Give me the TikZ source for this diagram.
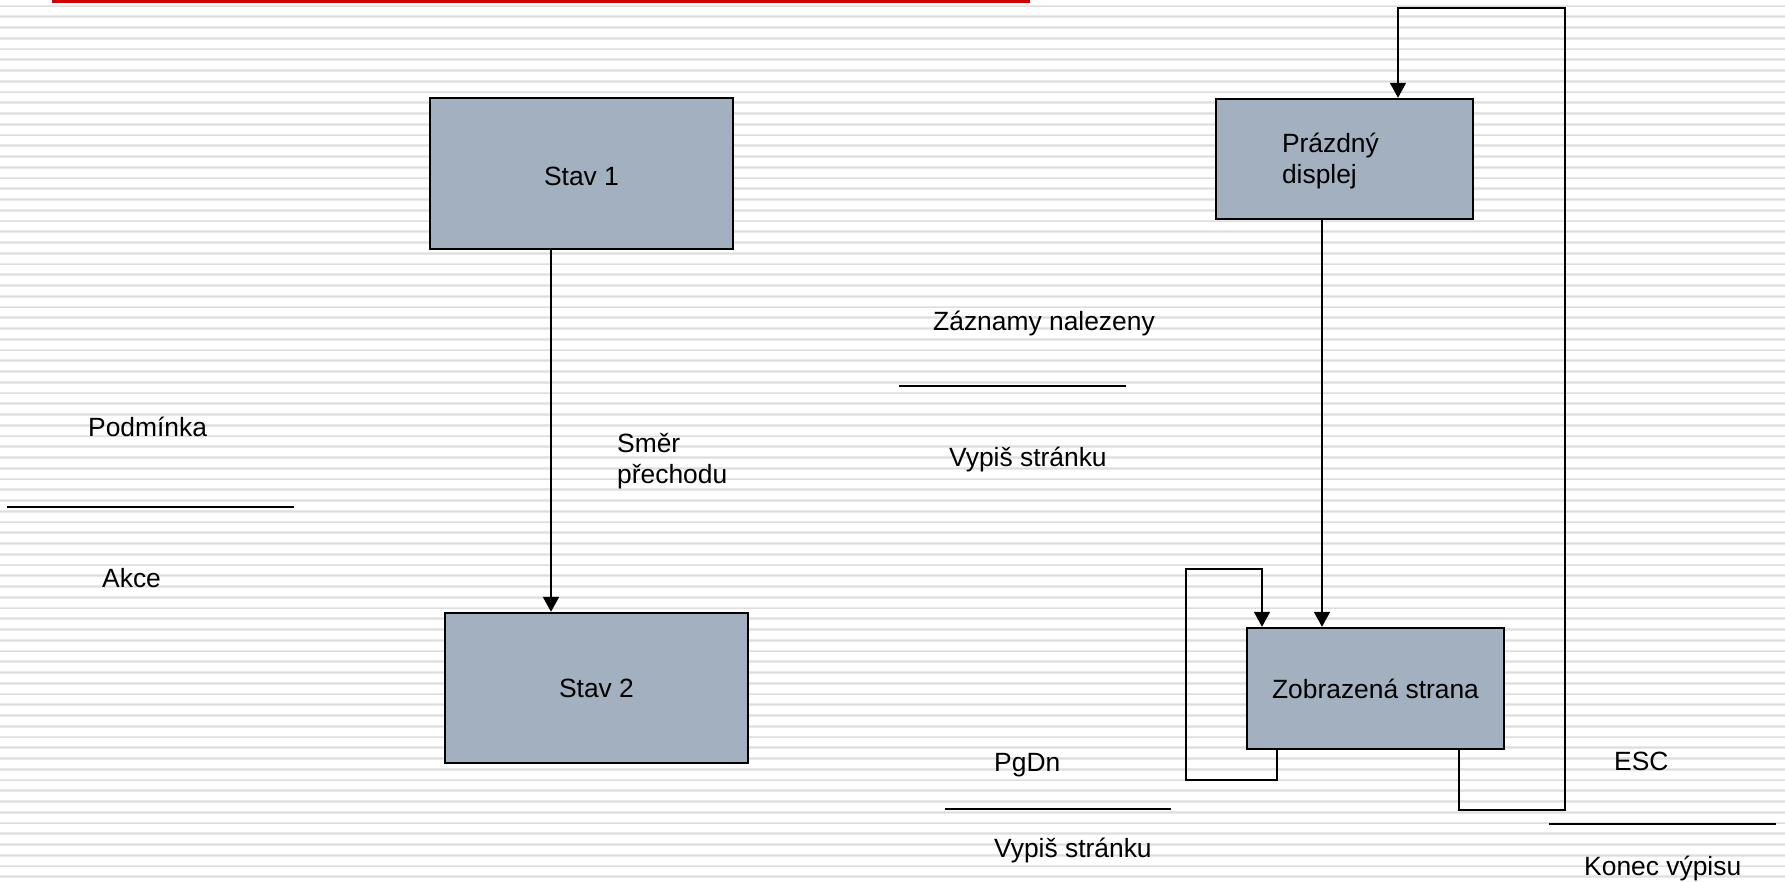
\documentclass[tikz,border=0pt]{standalone}
\usepackage{fontspec}
\setmainfont{Liberation Sans}
\usetikzlibrary{arrows.meta}
\definecolor{stripe}{RGB}{233,233,233}
\definecolor{stripecore}{RGB}{222,222,222}
\definecolor{boxfill}{RGB}{162,176,191}
\definecolor{barred}{RGB}{210,0,0}
\tikzset{
  stateBox/.style={draw=black, line width=2.4pt, fill=boxfill, inner sep=0pt,
    font=\fontsize{26.4}{31}\selectfont},
  label/.style={inner sep=0pt, font=\fontsize{26.4}{31}\selectfont, anchor=base west},
  flow/.style={line width=2pt, -{Triangle[width=16pt,length=15pt]}},
  loop/.style={line width=1.6pt, -{Triangle[width=16pt,length=15pt]}},
  rule/.style={line width=2pt}
}
\begin{document}
\begin{tikzpicture}[x=1pt,y=-1pt]
  \useasboundingbox (0,0) rectangle (1785,882);
  % lined paper background
  \fill[white] (0,0) rectangle (1785,882);
  \foreach \k in {0,...,81} {
    \draw[stripe, line width=2.6pt] (0,6+10.75*\k) -- (1785,6+10.75*\k);
    \draw[stripecore, line width=0.9pt] (0,6+10.75*\k) -- (1785,6+10.75*\k);
  }
  % red title bar
  \fill[barred] (52,0) rectangle (1030,3);

  % legend: state, transition, state
  \node[stateBox, minimum width=303pt, minimum height=151pt,
        text height=25pt, text depth=0pt] (s1) at (581.5,173.5) {Stav 1};
  \node[stateBox, minimum width=303pt, minimum height=150pt] (s2) at (596.5,688) {Stav 2};
  \draw[flow] ([xshift=-30.5pt]s1.south) -- ([xshift=-45.5pt]s2.north);

  \node[label] (smer) at (617,452) {Směr};
  \node[label] (prechod) at (617,483) {přechodu};

  \node[label] (podm) at (88,436) {Podmínka};
  \draw[rule] (7,507) -- (294,507);
  \node[label] (akce) at (102,587) {Akce};

  % display states
  \node[stateBox, minimum width=257pt, minimum height=120pt, text width=125pt,
        inner xsep=66pt, align=left, text height=20pt, text depth=32pt]
        (pd) at (1344.5,159) {Prázdný\\displej};
  \node[stateBox, minimum width=257pt, minimum height=121pt] (zs) at (1375.5,688.5) {Zobrazená strana};

  \draw[flow] ([xshift=-22.5pt]pd.south) -- ([xshift=-53.5pt]zs.north);

  % PgDn: page forward, back into the same state
  \draw[loop] ([xshift=-98.5pt]zs.south) -- ++(0,30) -- ++(-91,0) -- ++(0,-211)
    -| ([xshift=-113.5pt]zs.north);

  % ESC: end of listing, back to the empty display
  \draw[loop] ([xshift=83.5pt]zs.south) -- ++(0,60) -- ++(106,0) -- ++(0,-802)
    -| ([xshift=53.5pt]pd.north);

  % transition labels
  \node[label] (found) at (933,331) {Záznamy nalezeny};
  \draw[rule] (899,386) -- (1126,386);
  \node[label] (print1) at (949,466) {Vypiš stránku};

  \node[label] (pgdn) at (994,771) {PgDn};
  \draw[rule] (945,809) -- (1171,809);
  \node[label] (print2) at (994,857) {Vypiš stránku};

  \node[label] (esc) at (1614,770) {ESC};
  \draw[rule] (1549,824) -- (1776,824);
  \node[label] (konec) at (1584,875) {Konec výpisu};
\end{tikzpicture}
\end{document}
